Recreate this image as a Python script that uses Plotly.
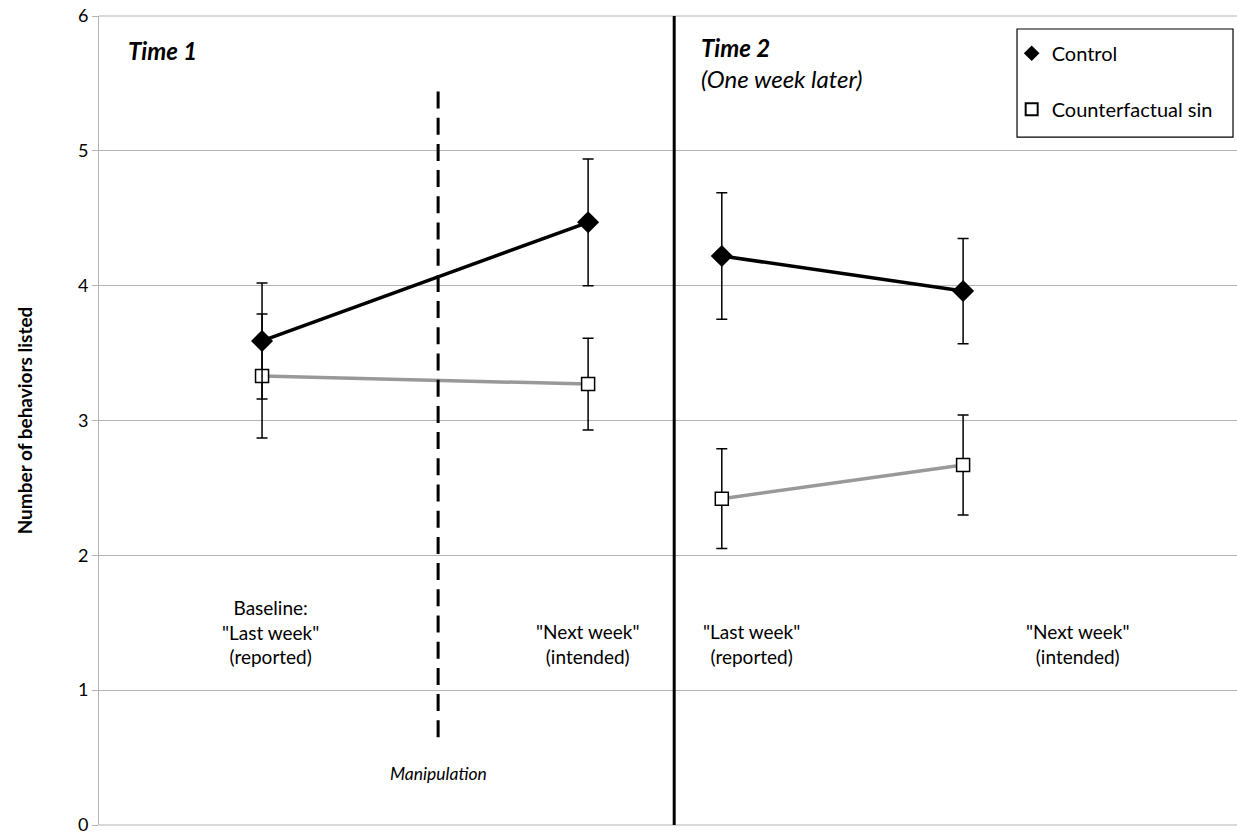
import plotly.graph_objects as go

# ---- data ----
x_pos = [1.0, 2.0, 2.41, 3.15]          # 4 measurement occasions
control = [3.59, 4.47, 4.22, 3.96]
control_err = [0.43, 0.47, 0.47, 0.39]
cf = [3.33, 3.27, 2.42, 2.67]
cf_err = [0.46, 0.34, 0.37, 0.37]
y_ticks = [0, 1, 2, 3, 4, 5, 6]
cat_labels = ['Baseline:<br>"Last week"<br>(reported)',
              '"Next week"<br>(intended)',
              '"Last week"<br>(reported)',
              '"Next week"<br>(intended)']
cat_label_x = [1.025, 1.997, 2.50, 3.50]

FONT = "Lato"
GRID = "#b3b3b3"
fig = go.Figure()

# Time 1 segment, Time 2 segment (lines not connected across the divider)
for a, b in [(0, 2), (2, 4)]:
    fig.add_trace(go.Scatter(
        x=x_pos[a:b], y=cf[a:b], mode="lines+markers",
        line=dict(color="#999999", width=3.5),
        marker=dict(symbol="square", size=13, color="white",
                    line=dict(color="black", width=1.5)),
        error_y=dict(type="data", array=cf_err[a:b], color="black",
                     thickness=1.5, width=5.5),
        showlegend=False, hoverinfo="skip"))
    fig.add_trace(go.Scatter(
        x=x_pos[a:b], y=control[a:b], mode="lines+markers",
        line=dict(color="black", width=3.5),
        marker=dict(symbol="diamond", size=17, color="black"),
        error_y=dict(type="data", array=control_err[a:b], color="black",
                     thickness=1.5, width=5.5),
        showlegend=False, hoverinfo="skip"))

# legend entries
fig.add_trace(go.Scatter(x=[None], y=[None], mode="markers", name="Control",
                         marker=dict(symbol="diamond", size=13, color="black"),
                         legendgroup="a"))
fig.add_trace(go.Scatter(x=[None], y=[None], mode="markers", name="Counterfactual sin",
                         marker=dict(symbol="square", size=12, color="white",
                                     line=dict(color="black", width=1.2)),
                         legendgroup="b"))

# edge gridlines (0 and 6) drawn in paper space so they are not clipped
for yp in (0, 1):
    fig.add_shape(type="line", xref="paper", yref="paper", x0=0, x1=1, y0=yp, y1=yp,
                  line=dict(color=GRID, width=1.2), layer="below")

# legend box
fig.add_shape(type="rect", xref="paper", yref="paper",
              x0=0.8067, x1=0.9965, y0=0.8504, y1=0.9839,
              line=dict(color="black", width=1.2), fillcolor="white", layer="below")

# divider lines
fig.add_shape(type="line", x0=2.264, x1=2.264, y0=0, y1=6, xref="x", yref="y",
              line=dict(color="black", width=3))
fig.add_shape(type="line", x0=1.54, x1=1.54, y0=5.44, y1=0.647, xref="x", yref="y",
              line=dict(color="black", width=3, dash="17px,9.2px"))

# category labels
for lx, lab in zip(cat_label_x, cat_labels):
    fig.add_annotation(x=lx, y=1.15, xref="x", yref="y", text=lab, showarrow=False,
                       yanchor="bottom", font=dict(family=FONT, size=19, color="black"),
                       align="center")

fig.add_annotation(x=1.54, y=0.38, xref="x", yref="y", text="<i>Manipulation</i>",
                   showarrow=False, font=dict(family=FONT, size=17.5, color="black"))
fig.add_annotation(x=0.583, y=5.745, xref="x", yref="y", text="<b><i>Time 1</i></b>",
                   showarrow=False, xanchor="left",
                   font=dict(family=FONT, size=24, color="black"))
fig.add_annotation(x=2.34, y=5.89, xref="x", yref="y",
                   text="<b><i>Time 2</i></b><br><i>(One week later)</i>",
                   showarrow=False, xanchor="left", yanchor="top", align="left",
                   font=dict(family=FONT, size=24, color="black"))

fig.update_layout(
    width=1237, height=836,
    margin=dict(l=99, r=0, t=16, b=11),
    plot_bgcolor="white", paper_bgcolor="white",
    font=dict(family=FONT, size=17, color="black"),
    xaxis=dict(range=[0.5, 3.99], showticklabels=False, showgrid=False,
               zeroline=False, showline=False, ticks=""),
    yaxis=dict(range=[0, 6], tickvals=y_ticks, showgrid=True, gridcolor=GRID,
               gridwidth=1, zeroline=False, showline=True, linecolor=GRID,
               linewidth=1, ticks="outside", ticklen=6, tickcolor=GRID,
               tickfont=dict(family=FONT, size=18), ticklabeloverflow="allow",
               title=dict(text="<b>Number of behaviors listed</b>",
                          font=dict(family=FONT, size=19), standoff=40)),
    legend=dict(x=0.802, y=0.978, xanchor="left", yanchor="top",
                borderwidth=0, bgcolor="rgba(0,0,0,0)",
                font=dict(family=FONT, size=20), tracegroupgap=27,
                itemsizing="constant"),
)

fig.write_html("out.html", config={"displayModeBar": False},
               post_script="document.body.style.margin='0';document.body.style.overflow='hidden';")
